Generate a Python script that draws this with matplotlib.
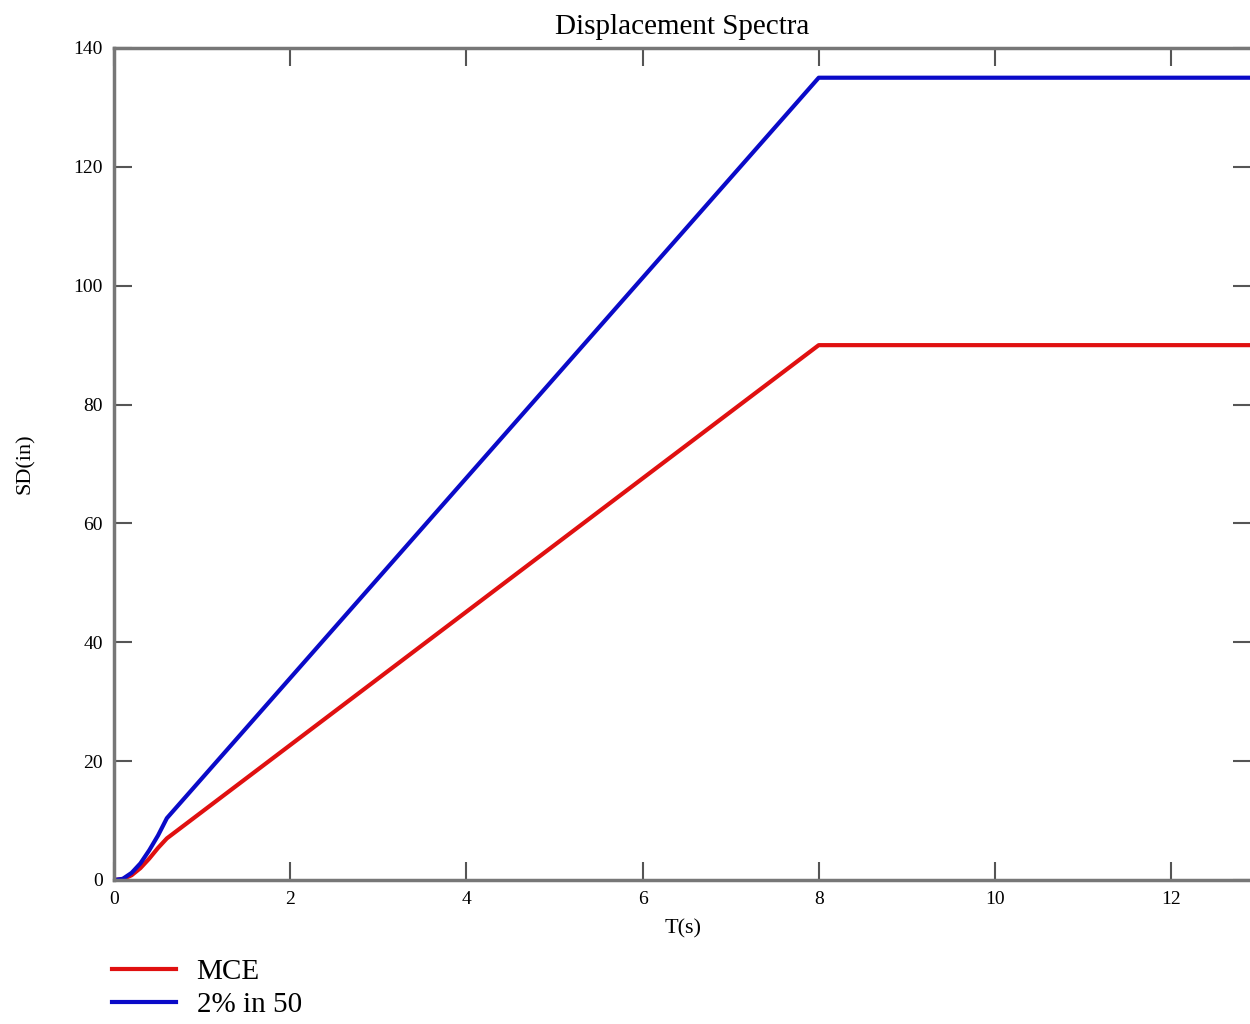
import numpy as np
import matplotlib.pyplot as plt

# periods (s) and displacement (in)
T_mce = [0, 0.1, 0.2, 0.3, 0.4, 0.5, 0.6, 8, 13]
sd_mce = [0, 0.15, 0.8, 2.0, 3.6, 5.4, 7.0, 90, 90]
T_250 = [0, 0.1, 0.2, 0.3, 0.4, 0.5, 0.6, 8, 13]
sd_250 = [0, 0.2, 1.2, 2.8, 5.0, 7.5, 10.4, 135, 135]

xticks = [0, 2, 4, 6, 8, 10, 12]
yticks = [0, 20, 40, 60, 80, 100, 120, 140]

plt.rcParams["font.family"] = ["Liberation Serif", "DejaVu Serif"]

fig = plt.figure(figsize=(12.5, 10.24), dpi=100)
ax = fig.add_axes([114 / 1250, 144 / 1024, 1 - 114 / 1250 + 0.001, 832 / 1024])

ax.plot(T_mce, sd_mce, color="#e01010", lw=3, label="MCE")
ax.plot(T_250, sd_250, color="#0a0ac8", lw=3, label="2% in 50")

ax.set_xlim(0, 12.91)
ax.set_ylim(0, 140)
ax.set_xticks(xticks)
ax.set_yticks(yticks)
ax.tick_params(direction="in", length=13, width=1.5, color="#555555",
               top=True, right=True, labelsize=14, pad=8)
for s in ax.spines.values():
    s.set_color("#777777")
    s.set_linewidth(2.5)

ax.set_title("Displacement Spectra", fontsize=21, pad=10)
ax.set_xlabel("T(s)", fontsize=16, labelpad=8)
ax.set_ylabel("SD(in)", fontsize=16, labelpad=28)

fig.legend(loc="upper left", bbox_to_anchor=(0.0896, 0.064), frameon=False,
           fontsize=21, handlelength=2.2, handletextpad=0.7, labelspacing=0.22,
           borderaxespad=0, borderpad=0)

fig.savefig("out.png", dpi=100)
